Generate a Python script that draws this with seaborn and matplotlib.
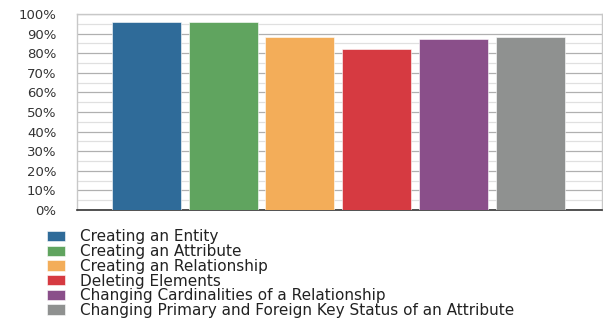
import pandas as pd
import matplotlib
matplotlib.use('Agg')
import matplotlib.pyplot as plt
import seaborn as sns
from matplotlib.ticker import MultipleLocator

# Task success rates
tasks = [
    'Creating an Entity',
    'Creating an Attribute',
    'Creating an Relationship',
    'Deleting Elements',
    'Changing Cardinalities of a Relationship',
    'Changing Primary and Foreign Key Status of an Attribute',
]
success = [96, 96, 88, 82, 87, 88]
colors = ['#2f6b99', '#60a45f', '#f3ad59', '#d63a41', '#8a4f8a', '#8f9190']

df = pd.DataFrame({'task': tasks, 'success': success})

sns.set_style('white')
plt.rcParams['font.family'] = ['DejaVu Sans']

fig = plt.figure(figsize=(6.03, 3.20), dpi=100)
ax = fig.add_axes([0.128, 0.344, 0.870, 0.6125])

sns.barplot(data=df, x='task', y='success', hue='task', palette=colors,
            hue_order=tasks, order=tasks, dodge=False, width=0.9,
            saturation=1, legend=True, ax=ax,
            edgecolor='white', linewidth=0.4, zorder=3)

ax.set_ylim(0, 100)
ax.set_xlim(-0.9, 5.93)
ax.yaxis.set_minor_locator(MultipleLocator(5))
ax.set_yticks(range(0, 101, 10))
ax.set_yticklabels([f'{v}%' for v in range(0, 101, 10)], fontsize=9.5, color='#333333')
ax.grid(axis='y', which='major', color='#b0b0b0', linewidth=0.9, zorder=0)
ax.grid(axis='y', which='minor', color='#e0e0e0', linewidth=0.9, zorder=0)
ax.tick_params(axis='y', which='both', length=0, pad=15)
ax.set_xticks([])
ax.set_xlabel('')
ax.set_ylabel('')
for s in ['left', 'top', 'right']:
    ax.spines[s].set_color('#c8c8c8')
    ax.spines[s].set_linewidth(1.0)
ax.spines['bottom'].set_color('#333333')
ax.spines['bottom'].set_linewidth(1.2)

handles, labels = ax.get_legend_handles_labels()
ax.get_legend().remove()
fig.legend(handles, labels, loc='upper left', bbox_to_anchor=(0.078, 0.283),
           frameon=False, fontsize=11, handlelength=1.2, handleheight=0.65,
           labelspacing=-0.02, handletextpad=0.95, borderaxespad=0, borderpad=0,
           labelcolor='#222222')

fig.savefig('out.png', dpi=100)
